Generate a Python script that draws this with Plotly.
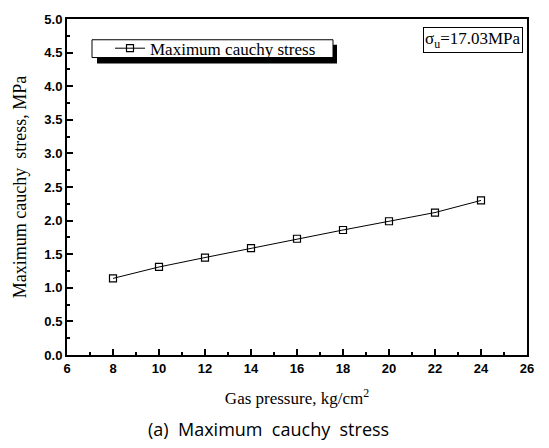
import plotly.graph_objects as go

pressure = [8, 10, 12, 14, 16, 18, 20, 22, 24]
max_stress = [1.14, 1.31, 1.45, 1.59, 1.73, 1.86, 1.99, 2.12, 2.30]
series_name = "Maximum cauchy stress"
x_title = "Gas pressure, kg/cm<sup>2</sup>"
y_title = "Maximum cauchy  stress, MPa"
sigma_label = "σ<sub>u</sub>=17.03MPa"
caption = "(a)  Maximum  cauchy  stress"

serif = "Liberation Serif, Times New Roman, serif"
tickfont = dict(family="Liberation Sans, Arial, sans-serif", size=13, color="black", weight="bold")

fig = go.Figure()
fig.add_trace(go.Scatter(
    x=pressure, y=max_stress, name=series_name, mode="lines+markers",
    line=dict(color="black", width=1),
    marker=dict(symbol="square-open", size=7, color="black", line=dict(width=1.2)),
    showlegend=True,
))

axis_common = dict(
    showgrid=False, zeroline=False, showline=True, linecolor="black", linewidth=2,
    mirror=True, ticks="inside", ticklen=6, tickwidth=2, tickcolor="black",
    tickfont=tickfont,
)
fig.update_xaxes(range=[6, 26], dtick=2, tick0=6,
                 minor=dict(dtick=1, ticks="inside", ticklen=3, tickwidth=1.5, tickcolor="black"),
                 title=dict(text=x_title, font=dict(family=serif, size=17, color="black"), standoff=18),
                 **axis_common)
fig.update_yaxes(range=[0, 5], dtick=0.5, tick0=0, tickformat=".1f",
                 minor=dict(dtick=0.25, ticks="inside", ticklen=3, tickwidth=1.5, tickcolor="black"),
                 title=dict(text=y_title, font=dict(family=serif, size=18, color="black"), standoff=13),
                 **axis_common)

def px_x(p):
    return (p - 67) / 460

def px_y(p):
    return (355 - p) / 340

fig.update_layout(
    width=549, height=448,
    margin=dict(l=67, r=22, t=15, b=93),
    plot_bgcolor="white", paper_bgcolor="white",
    legend=dict(x=px_x(110), y=px_y(45), xanchor="left", yanchor="middle",
                bgcolor="rgba(0,0,0,0)", borderwidth=0,
                font=dict(family=serif, size=17, color="black"),
                itemwidth=30, tracegroupgap=0),
    shapes=[
        dict(type="rect", xref="paper", yref="paper",
             x0=px_x(97), x1=px_x(337), y0=px_y(60), y1=px_y(41),
             fillcolor="black", line=dict(width=0), layer="above"),
        dict(type="rect", xref="paper", yref="paper",
             x0=px_x(92), x1=px_x(333), y0=px_y(54), y1=px_y(36),
             fillcolor="white", line=dict(width=1, color="black"), layer="above"),
    ],
    annotations=[
        dict(text=sigma_label, xref="paper", yref="paper", x=px_x(523), y=px_y(23),
             xanchor="right", yanchor="top", showarrow=False,
             font=dict(family=serif, size=17, color="black"),
             bordercolor="black", borderwidth=1, borderpad=1, bgcolor="white"),
        dict(text=caption, xref="paper", yref="paper", x=px_x(268), y=px_y(430),
             xanchor="center", yanchor="middle", showarrow=False,
             font=dict(family="Open Sans, Noto Sans, sans-serif", size=18, color="black")),
    ],
)

fig.write_html("out.html")
